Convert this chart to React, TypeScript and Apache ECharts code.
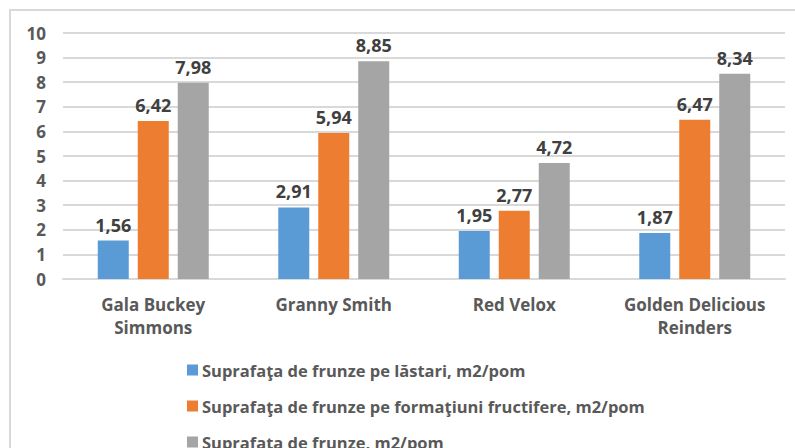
import React, { useEffect, useRef } from "react";
import * as echarts from "echarts";

const categories = ["Gala Buckey\nSimmons", "Granny Smith", "Red Velox", "Golden Delicious\nReinders"];
const seriesNames = [
  "Suprafaţa de frunze pe lăstari, m2/pom",
  "Suprafaţa de frunze pe formaţiuni fructifere, m2/pom",
  "Suprafaţa de frunze, m2/pom",
];
const lastari = [1.56, 2.91, 1.95, 1.87];
const formatiuni = [6.42, 5.94, 2.77, 6.47];
const total = [7.98, 8.85, 4.72, 8.34];
const colors = ["#5B9BD5", "#ED7D31", "#A5A5A5"];

const FONT = "'Open Sans', 'DejaVu Sans', sans-serif";

export default function App() {
  const ref = useRef<HTMLDivElement>(null);
  useEffect(() => {
    document.body.style.margin = "0";
    const chart = echarts.init(ref.current!, null, { renderer: "svg" });
    const data = [lastari, formatiuni, total];
    chart.setOption({
      animation: false,
      backgroundColor: "#ffffff",
      textStyle: { fontFamily: FONT },
      graphic: [
        {
          type: "rect",
          shape: { x: 10, y: 10, width: 800, height: 460 },
          style: { fill: "none", stroke: "#d9d9d9", lineWidth: 2 },
          silent: true,
          z: -1,
        },
      ],
      grid: { left: 63, right: 10, top: 33, height: 246, containLabel: false },
      xAxis: {
        type: "category",
        data: categories,
        axisLine: { show: true, lineStyle: { color: "#d9d9d9", width: 2 } },
        axisTick: { show: false },
        axisLabel: {
          color: "#595959",
          fontSize: 17,
          fontWeight: "bold",
          fontFamily: FONT,
          lineHeight: 23,
          margin: 14,
          interval: 0,
        },
      },
      yAxis: {
        type: "value",
        min: 0,
        max: 10,
        interval: 1,
        axisLine: { show: false },
        axisTick: { show: false },
        splitLine: { lineStyle: { color: "#d9d9d9", width: 2 } },
        axisLabel: {
          color: "#595959",
          fontSize: 17,
          fontWeight: "bold",
          fontFamily: FONT,
          margin: 17,
        },
      },
      legend: {
        orient: "vertical",
        left: 182,
        top: 354,
        height: 200,
        itemWidth: 11,
        itemHeight: 11,
        itemGap: 14,
        icon: "rect",
        textStyle: {
          color: "#595959",
          fontSize: 16.5,
          fontWeight: "bold",
          fontFamily: FONT,
          lineHeight: 22,
          padding: [0, 0, 0, -1],
        },
        data: seriesNames,
      },
      series: seriesNames.map((name, i) => ({
        name,
        type: "bar",
        data: data[i],
        barWidth: 31,
        barGap: "29%",
        itemStyle: { color: colors[i] },
        label: {
          show: true,
          position: "top",
          distance: 7,
          color: "#404040",
          fontSize: 18,
          fontWeight: "bold",
          fontFamily: FONT,
          formatter: (p: any) => p.value.toFixed(2).replace(".", ","),
        },
      })),
    });
    return () => chart.dispose();
  }, []);
  return <div ref={ref} style={{ width: 795, height: 448 }} />;
}
